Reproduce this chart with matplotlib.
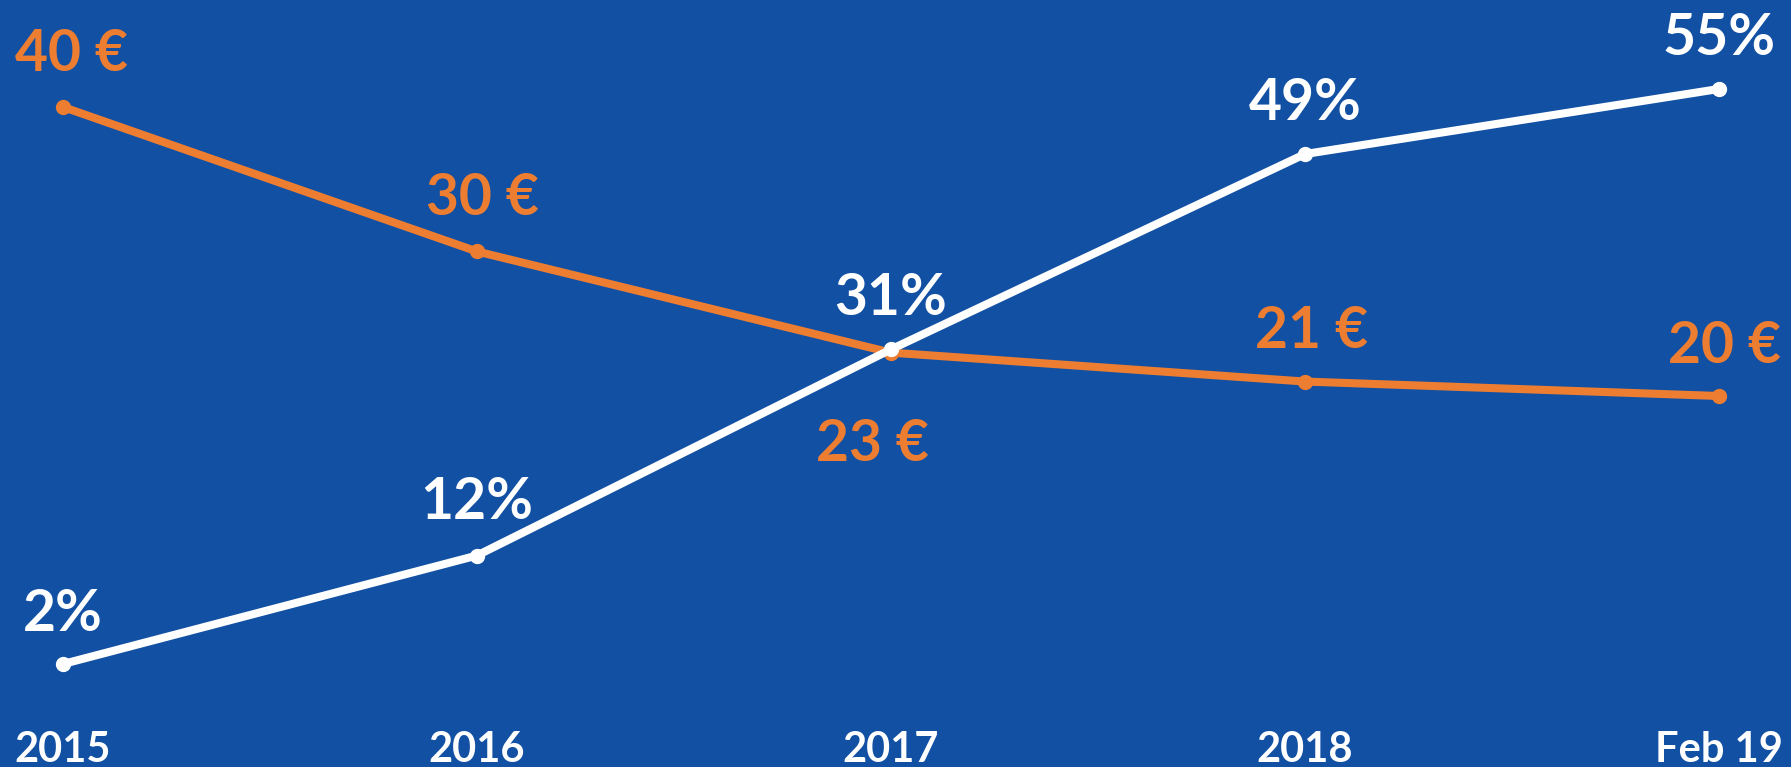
import matplotlib.pyplot as plt

# chart data
periods = ["2015", "2016", "2017", "2018", "Feb 19"]
price = [40, 30, 23, 21, 20]          # orange series, euros
share = [2, 12, 31, 49, 55]           # white series, percent

price_labels = ["%d €" % v for v in price]
share_labels = ["%d%%" % v for v in share]

bg = "#1150A2"
orange = "#ED7D31"
white = "#FFFFFF"

plt.rcParams['font.family'] = ['Lato', 'DejaVu Sans']
plt.rcParams['font.weight'] = 'bold'

fig = plt.figure(figsize=(17.91, 7.67), dpi=100, facecolor=bg)
ax = fig.add_axes([0, 0, 1, 1])
ax.set_facecolor(bg)
ax2 = ax.twinx()
ax2.patch.set_visible(False)

x = list(range(len(periods)))

# orange price line (left scale)
ax.plot(x, price, color=orange, lw=5.8, marker='o', ms=10, solid_capstyle='round', zorder=3)
# white share line (right scale), drawn on top
ax2.plot(x, share, color=white, lw=5.8, marker='o', ms=10, solid_capstyle='round', zorder=4)

ax.set_xlim(-0.152, 4.174)
ax.set_ylim(-5.67, 47.40)
ax2.set_ylim(-7.49, 63.2)

# value labels: (dx, dy) offsets in points from the point, baseline aligned
price_off = [(6, 26), (4, 26), (-13, -78), (5, 24), (4, 24)]
share_off = [(0, 24), (0, 26), (0, 25), (0, 24.5), (0, 24.5)]
for i in x:
    ax.annotate(price_labels[i], (x[i], price[i]), xytext=price_off[i],
                textcoords='offset points', ha='center', va='baseline',
                color=orange, fontsize=41, fontweight='bold')
    ax2.annotate(share_labels[i], (x[i], share[i]), xytext=share_off[i],
                 textcoords='offset points', ha='center', va='baseline',
                 color=white, fontsize=41, fontweight='bold')

ax.set_xticks(x)
ax.set_xticklabels(periods, color=white, fontsize=30, fontweight='bold')
ax.tick_params(axis='x', length=0, pad=-26)
ax.set_yticks([])
ax2.set_yticks([])
for a in (ax, ax2):
    for s in a.spines.values():
        s.set_visible(False)

fig.savefig("out.png", dpi=100, facecolor=bg)
